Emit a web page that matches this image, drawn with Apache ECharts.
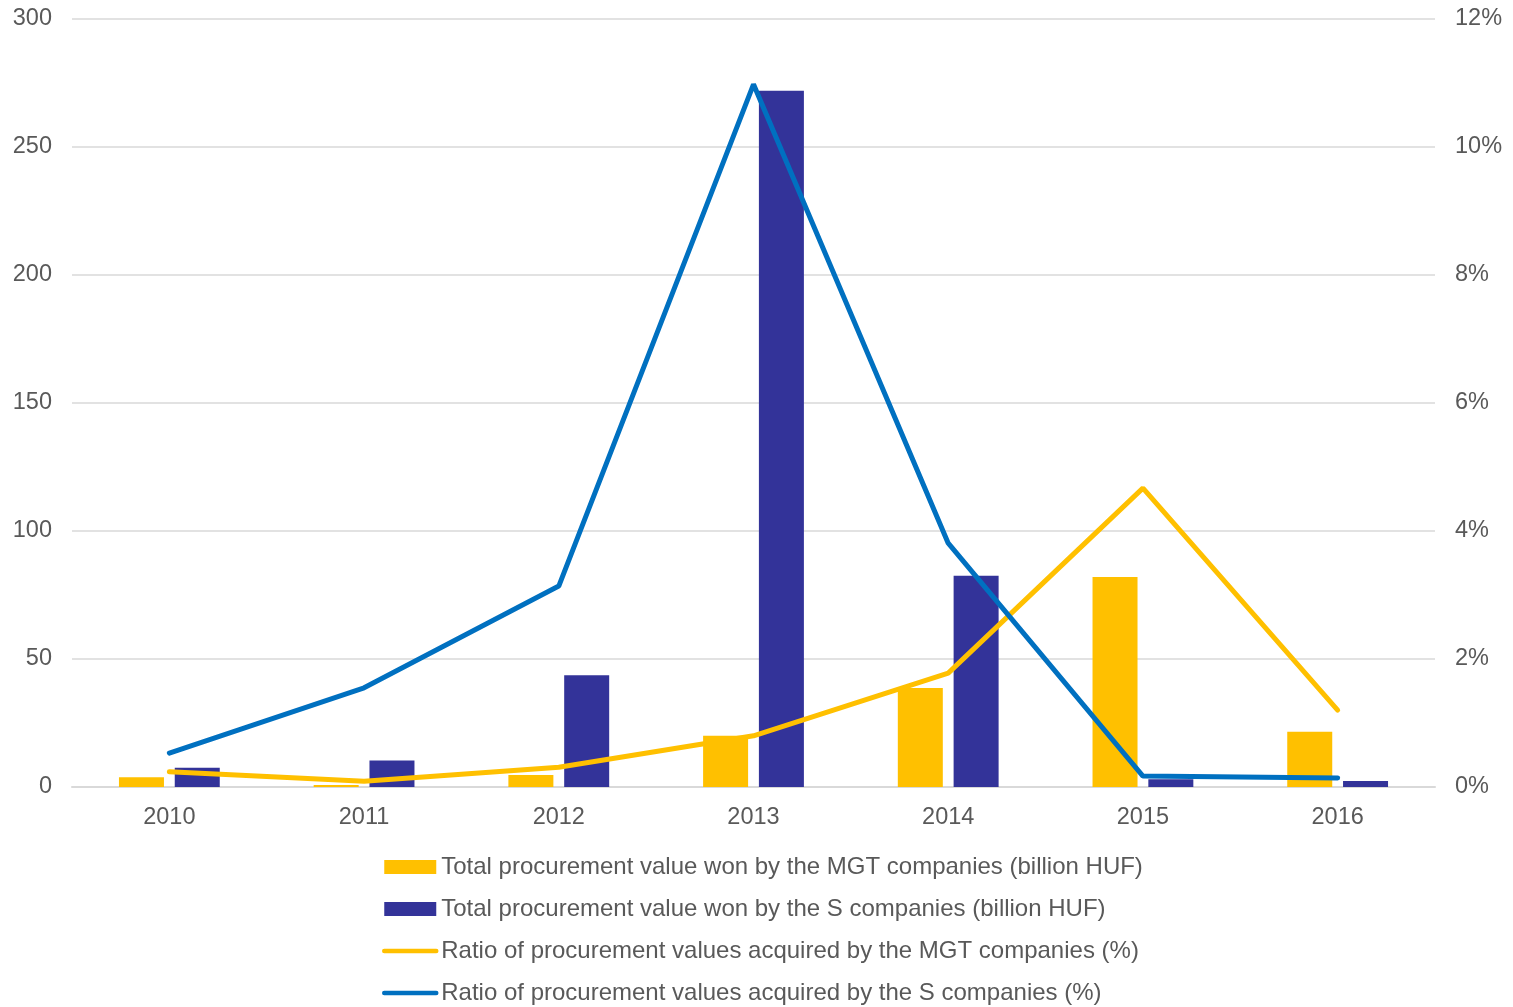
<!DOCTYPE html>
<html>
<head>
<meta charset="utf-8">
<script src="https://cdn.jsdelivr.net/npm/echarts@6/dist/echarts.min.js"></script>
<style>
  html, body { margin: 0; padding: 0; background: #fff; }
  #chart { width: 1513px; height: 1007px; }
</style>
</head>
<body>
<div id="chart"></div>
<script>
// Years on the category axis
const years = ['2010', '2011', '2012', '2013', '2014', '2015', '2016'];

// Procurement value won (billion HUF)
const mgtValue = [3.8, 0.8, 4.7, 20, 38.7, 82, 21.6];
const sValue = [7.5, 10.4, 43.7, 272, 82.5, 3, 2.3];

// Share of total procurement value (%)
const mgtRatio = [0.24, 0.09, 0.31, 0.8, 1.78, 4.67, 1.2];
const sRatio = [0.53, 1.55, 3.14, 10.98, 3.81, 0.17, 0.14];

const seriesNames = [
  'Total procurement value won by the MGT companies (billion HUF)',
  'Total procurement value won by the S companies (billion HUF)',
  'Ratio of procurement values acquired by the MGT companies (%)',
  'Ratio of procurement values acquired by the S companies (%)'
];

const textColor = '#595959';
const fontFamily = '"Liberation Sans", Arial, sans-serif';

const chart = echarts.init(document.getElementById('chart'));
chart.setOption({
  animation: false,
  textStyle: { fontFamily: fontFamily },
  grid: { left: 72, right: 78, top: 19, bottom: 220 },
  legend: {
    orient: 'vertical',
    left: 377,
    top: 850,
    height: 200,
    itemWidth: 52,
    itemHeight: 14,
    itemGap: 18,
    textStyle: { color: textColor, fontSize: 24, fontFamily: fontFamily },
    data: [
      { name: seriesNames[0], icon: 'rect' },
      { name: seriesNames[1], icon: 'rect' },
      { name: seriesNames[2], itemStyle: { opacity: 0 }, lineStyle: { width: 4.5 } },
      { name: seriesNames[3], itemStyle: { opacity: 0 }, lineStyle: { width: 4.5 } }
    ]
  },
  xAxis: {
    type: 'category',
    data: years,
    axisLine: { lineStyle: { color: '#d9d9d9', width: 2 } },
    axisTick: { show: false },
    axisLabel: { color: textColor, fontSize: 23.5, margin: 19 }
  },
  yAxis: [
    {
      type: 'value',
      min: 0, max: 300, interval: 50,
      axisLine: { show: false },
      axisTick: { show: false },
      axisLabel: { color: textColor, fontSize: 23.5, margin: 20 },
      splitLine: { lineStyle: { color: '#d9d9d9', width: 1.5 } }
    },
    {
      type: 'value',
      min: 0, max: 12, interval: 2,
      axisLine: { show: false },
      axisTick: { show: false },
      axisLabel: { color: textColor, fontSize: 23.5, margin: 20, formatter: '{value}%' },
      splitLine: { show: false }
    }
  ],
  series: [
    {
      name: seriesNames[0],
      type: 'bar',
      data: mgtValue,
      barWidth: 45,
      barGap: '24%',
      itemStyle: { color: '#FFC000' }
    },
    {
      name: seriesNames[1],
      type: 'bar',
      data: sValue,
      barWidth: 45,
      barGap: '24%',
      itemStyle: { color: '#333399' }
    },
    {
      name: seriesNames[2],
      type: 'line',
      yAxisIndex: 1,
      data: mgtRatio,
      symbol: 'none',
      lineStyle: { color: '#FFC000', width: 5, cap: 'round' },
      itemStyle: { color: '#FFC000' },
      z: 3
    },
    {
      name: seriesNames[3],
      type: 'line',
      yAxisIndex: 1,
      data: sRatio,
      symbol: 'none',
      lineStyle: { color: '#0070C0', width: 5, cap: 'round' },
      itemStyle: { color: '#0070C0' },
      z: 4
    }
  ]
});
</script>
</body>
</html>
